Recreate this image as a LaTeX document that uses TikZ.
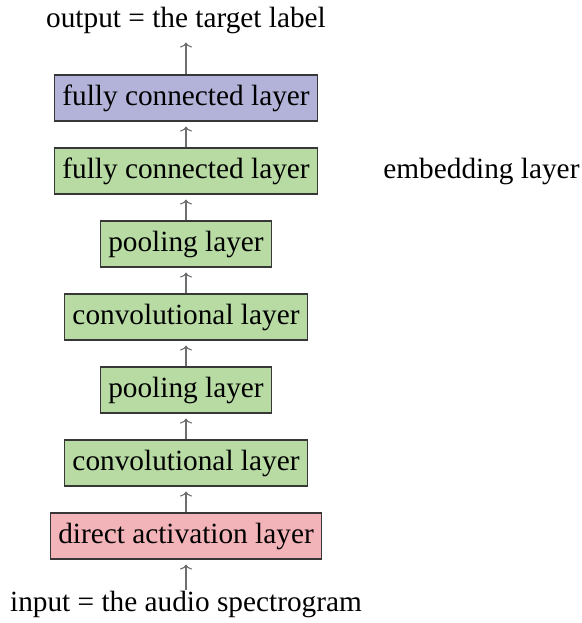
\documentclass[tikz,border=0pt]{standalone}
\usepackage{fontspec}
\setmainfont{Liberation Serif}
\usetikzlibrary{arrows.meta}
\definecolor{fcpurple}{RGB}{179,179,217}
\definecolor{lgreen}{RGB}{183,219,163}
\definecolor{lred}{RGB}{243,180,185}
\definecolor{edgegray}{RGB}{55,55,55}
\definecolor{arrgray}{RGB}{110,110,110}
\begin{document}
\begin{tikzpicture}[x=1pt,y=1pt,
  every node/.style={font=\fontsize{29.3}{35}\selectfont},
  layerbox/.style={draw=edgegray, line width=1.1pt, inner xsep=8pt, inner ysep=0pt,
    minimum height=46pt, text height=20.5pt, text depth=6.4pt},
  purplebox/.style={layerbox, fill=fcpurple},
  greenbox/.style={layerbox, fill=lgreen},
  redbox/.style={layerbox, fill=lred},
  plaintext/.style={inner sep=0pt},
  arr/.style={draw=arrgray, line width=1.1pt, -{To[length=5pt,width=12pt]}, shorten >=5pt}
]
\useasboundingbox (0,0) rectangle (581,623);
\node[plaintext, anchor=base] (out) at (186,595) {output = the target label};
\node[purplebox] (fc2) at (186,525) {fully connected layer};
\node[greenbox] (fc1) at (186,452) {fully connected layer};
\node[greenbox] (pool2) at (186,379) {pooling layer};
\node[greenbox] (conv2) at (186,306) {convolutional layer};
\node[greenbox] (pool1) at (186,233) {pooling layer};
\node[greenbox] (conv1) at (186,160) {convolutional layer};
\node[redbox] (act) at (186,87) {direct activation layer};
\node[plaintext, anchor=base] (in) at (186,11) {input = the audio spectrogram};
\node[plaintext, anchor=base west] (emb) at ([xshift=65pt]fc1.base east) {embedding layer};
\draw[arr, shorten >=0pt] (fc2.north) -- ([yshift=-8pt]out.south);
\draw[arr] (fc1) -- (fc2);
\draw[arr] (pool2) -- (fc1);
\draw[arr] (conv2) -- (pool2);
\draw[arr] (pool1) -- (conv2);
\draw[arr] (conv1) -- (pool1);
\draw[arr] (act) -- (conv1);
\draw[arr] ([yshift=1pt]in.north) -- (act);
\end{tikzpicture}
\end{document}
